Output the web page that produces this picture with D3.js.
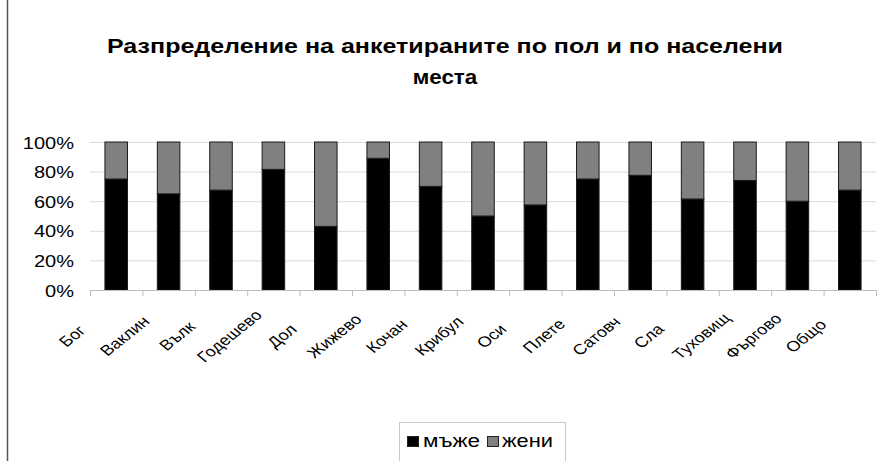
<!DOCTYPE html>
<html>
<head>
<meta charset="utf-8">
<script src="https://cdn.jsdelivr.net/npm/d3@7"></script>
<style>
  html, body { margin: 0; padding: 0; background: #fff; }
  svg { display: block; font-family: "Liberation Sans", Arial, sans-serif; }
</style>
</head>
<body>
<svg id="chart" width="884" height="461"></svg>
<script>
// Villages (labels as shown on the axis) and share of respondents by sex, %
const categories = ["Бог", "Ваклин", "Вълк", "Годешево", "Дол", "Жижево", "Кочан",
  "Крибул", "Оси", "Плете", "Сатовч", "Сла", "Туховищ", "Фъргово", "Общо"];
const men   = [75, 65, 67.5, 81.5, 43, 89, 70, 50, 57.5, 75, 77.5, 61.5, 74, 60, 67.5];
const women = [25, 35, 32.5, 18.5, 57, 11, 30, 50, 42.5, 25, 22.5, 38.5, 26, 40, 32.5];
const seriesNames = ["мъже", "жени"];
const yTicks = [0, 20, 40, 60, 80, 100];
const titleLines = ["Разпределение на анкетираните по пол и по населени", "места"];

const colors = { "мъже": "#000000", "жени": "#808080" };
const sx = 1.25; // horizontal stretch applied to the chart's text

const svg = d3.select("#chart");
const W = 884, H = 461;
const plot = { left: 90, right: 876, top: 142, bottom: 290 };

// outer chart frame (left edge visible)
svg.append("rect").attr("x", 7.5).attr("y", -5).attr("width", W + 10).attr("height", H + 20)
  .attr("fill", "#fff").attr("stroke", "#555").attr("stroke-width", 1.5);

// title
const titleLens = [676, null];
titleLines.forEach((t, i) => {
  const tt = svg.append("text")
    .attr("x", 445).attr("y", 53 + i * 31)
    .attr("text-anchor", "middle")
    .attr("font-size", 20).attr("font-weight", "bold").attr("fill", "#000")
    .text(t);
  if (titleLens[i]) tt.attr("textLength", titleLens[i]).attr("lengthAdjust", "spacingAndGlyphs");
  else tt.attr("transform", `translate(445,${53 + i * 31}) scale(1.12,1) translate(-445,${-(53 + i * 31)})`);
});

const rows = categories.map((c, i) => ({ cat: c, "мъже": men[i], "жени": women[i] }));

const x = d3.scaleBand().domain(categories).range([plot.left, plot.right])
  .paddingInner(0.57).paddingOuter(0.285);
const y = d3.scaleLinear().domain([0, 100]).range([plot.bottom, plot.top]);

// gridlines
svg.append("g").selectAll("line").data(yTicks.filter(d => d > 0)).join("line")
  .attr("x1", plot.left).attr("x2", plot.right)
  .attr("y1", d => y(d) + 0.5).attr("y2", d => y(d) + 0.5)
  .attr("stroke", "#dadada").attr("stroke-width", 1);

// y axis labels
const yAxis = d3.axisLeft(y).tickValues(yTicks).tickFormat(d => d + "%").tickSize(0);
const gy = svg.append("g").attr("transform", `translate(${plot.left - 16},0)`).call(yAxis);
gy.select(".domain").remove();
gy.selectAll("text")
  .attr("x", null).attr("dy", null)
  .attr("transform", `translate(0,6) scale(${sx},1)`)
  .attr("font-size", 16).attr("font-family", "Liberation Sans, Arial, sans-serif")
  .attr("fill", "#000").attr("text-anchor", "end");

// stacked bars
const stack = d3.stack().keys(seriesNames);
const layers = stack(rows);
svg.append("g").selectAll("g").data(layers).join("g")
  .attr("fill", d => colors[d.key])
  .selectAll("rect").data(d => d).join("rect")
    .attr("x", d => x(d.data.cat))
    .attr("width", x.bandwidth())
    .attr("y", d => y(d[1]))
    .attr("height", d => y(d[0]) - y(d[1]))
    .attr("stroke", "#1a1a1a").attr("stroke-width", 1);

// category axis: baseline and tick marks between categories
svg.append("line").attr("x1", plot.left).attr("x2", plot.right)
  .attr("y1", plot.bottom + 0.5).attr("y2", plot.bottom + 0.5)
  .attr("stroke", "#bdbdbd");
const gap = (x.step() - x.bandwidth()) / 2;
const tickXs = categories.map(c => x(c) - gap).concat([plot.right]);
svg.append("g").selectAll("line").data(tickXs).join("line")
  .attr("x1", d => d + 0.5).attr("x2", d => d + 0.5)
  .attr("y1", plot.bottom).attr("y2", plot.bottom + 6)
  .attr("stroke", "#bdbdbd");

// rotated category labels
svg.append("g").selectAll("text").data(categories).join("text")
  .attr("transform", d => `translate(${x(d) + x.bandwidth() / 2 - 44},${336}) scale(${sx},1) rotate(-45)`)
  .attr("text-anchor", "middle").attr("dy", "0.35em")
  .attr("font-size", 14.5).attr("fill", "#000")
  .text(d => d);

// legend
const lg = svg.append("g");
lg.append("rect").attr("x", 399.5).attr("y", 422.5).attr("width", 166).attr("height", 60)
  .attr("fill", "#fff").attr("stroke", "#c8c8c8");
const legendItems = [
  { key: "мъже", mx: 407, tx: 423, len: 57 },
  { key: "жени", mx: 487, tx: 502, len: 51 }
];
legendItems.forEach(it => {
  lg.append("rect").attr("x", it.mx + 0.5).attr("y", 436.5).attr("width", 11).attr("height", 10)
    .attr("fill", colors[it.key]).attr("stroke", "#222").attr("stroke-width", 1);
  lg.append("text").attr("x", it.tx).attr("y", 447)
    .attr("font-size", 18).attr("fill", "#000")
    .attr("textLength", it.len).attr("lengthAdjust", "spacingAndGlyphs")
    .text(it.key);
});
</script>
</body>
</html>
